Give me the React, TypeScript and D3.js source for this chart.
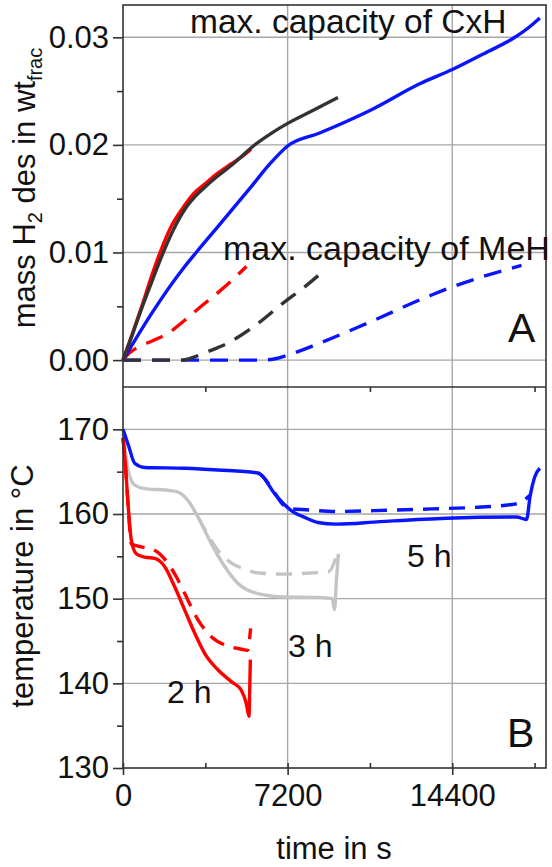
import React, { useEffect, useRef } from 'react';
import * as d3 from 'd3';

// ---- panel A: mass H2 desorbed (wt frac) vs time (s) ----
const tRedA = [0, 400, 820, 1250, 1620, 2100, 2600, 3100, 3600, 4100, 4700, 5200, 5600];
const mRedA = [0, 0.0024, 0.005, 0.0078, 0.01, 0.0124, 0.0141, 0.0155, 0.0164, 0.0173, 0.0182, 0.0189, 0.0196];

const tBlackA = [0, 400, 850, 1300, 1760, 2200, 2700, 3200, 3700, 4200, 4800, 5700, 6500, 7200, 8300, 9400];
const mBlackA = [0, 0.0023, 0.005, 0.0075, 0.01, 0.0121, 0.014, 0.0153, 0.0163, 0.0172, 0.0182, 0.0199, 0.0211, 0.022, 0.0232, 0.0244];

const tBlueA = [0, 1240, 2700, 3200, 4150, 5600, 6450, 7200, 8600, 10800, 13000, 14400, 15800, 17140, 17800, 18230];
const mBlueA = [0, 0.0043, 0.0087, 0.01, 0.0124, 0.0161, 0.0183, 0.0199, 0.0211, 0.0232, 0.0257, 0.027, 0.0285, 0.03, 0.031, 0.0318];

const tRedDashA = [0, 250, 650, 1300, 1970, 2700, 3420, 4000, 4600, 5400];
const mRedDashA = [0, 0.0006, 0.0012, 0.0018, 0.0025, 0.0037, 0.005, 0.006, 0.0071, 0.0087];

const tBlackDashA = [0, 2600, 3000, 3600, 4600, 5900, 7000, 8000, 8830];
const mBlackDashA = [0, 0, 0.0002, 0.0007, 0.0016, 0.0034, 0.0053, 0.0069, 0.0084];

const tBlueDashA = [0, 6000, 6600, 7400, 8400, 10650, 13550, 14400, 17430];
const mBlueDashA = [0, 0, 0.0001, 0.0006, 0.0014, 0.0034, 0.0061, 0.0068, 0.0088];

// ---- panel B: temperature (°C) vs time (s) ----
const tBlueB = [0, 250, 510, 950, 2700, 4150, 5900, 6050, 6630, 7360, 8030, 8520, 9340, 11240, 14150, 17210, 17650, 17800, 18010, 18230];
const cBlueB = [170, 168, 166, 165.5, 165.4, 165.2, 164.85, 164.6, 162.4, 160.4, 159.5, 159.0, 158.8, 159.1, 159.5, 159.65, 159.35, 162, 164.4, 165.4];

const tBlueDashB = [5900, 6050, 6630, 7000, 7400, 8000, 9300, 11000, 13500, 15500, 17200, 17800];
const cBlueDashB = [164.85, 164.6, 162.5, 161.1, 160.6, 160.5, 160.3, 160.4, 160.6, 160.8, 161.2, 162.2];

const tGreyB = [0, 100, 220, 510, 950, 1970, 2400, 2840, 3280, 3860, 4450, 5030, 5900, 7070, 8520, 9150, 9250, 9330, 9420];
const cGreyB = [169.5, 167.5, 165.2, 163.4, 163.0, 162.8, 162.6, 161.6, 159.65, 156.5, 153.8, 151.8, 150.6, 150.2, 150.15, 150.0, 148.7, 152, 155.3];

const tGreyDashB = [3280, 3700, 4150, 4750, 5300, 5900, 7000, 8300, 9000, 9340];
const cGreyDashB = [159.65, 157.6, 155.7, 154.2, 153.5, 153.05, 152.9, 153.05, 153.2, 155.1];

const tRedB = [0, 100, 220, 365, 580, 950, 1390, 1820, 2260, 2700, 3140, 3570, 4150, 4740, 5170, 5390, 5510, 5540, 5570];
const cRedB = [169, 166, 161.2, 156.9, 155.3, 154.9, 154.75, 153.8, 151.4, 148.65, 145.9, 143.55, 141.6, 140.2, 139.2, 137.65, 136.1, 139, 142.8];

const tRedDashB = [0, 100, 220, 365, 650, 1240, 1600, 1970, 2350, 2700, 3280, 3860, 4590, 5250, 5450, 5580];
const cRedDashB = [169, 166, 161.2, 156.5, 156.2, 155.9, 155.3, 154.15, 152.5, 150.6, 147.5, 145.5, 144.4, 144.0, 143.9, 146.5];

// ticks
const xMajor = [0, 7200, 14400];
const xMinor = [3600, 10800, 18000];
const yAMajor = [0, 0.01, 0.02, 0.03];
const yAMinor = [0.005, 0.015, 0.025];
const yBMajor = [130, 140, 150, 160, 170];
const yBMinor = [135, 145, 155, 165];

const zip = (a: number[], b: number[]) => a.map((v, i) => [v, b[i]] as [number, number]);

const FONT = "'Liberation Sans', Arial, sans-serif";

export default function App() {
  const ref = useRef<SVGSVGElement>(null);

  useEffect(() => {
    const svg = d3.select(ref.current);
    svg.selectAll('*').remove();

    const left = 123, right = 546, topA = 5, mid = 387, botB = 768;
    const x = d3.scaleLinear().domain([0, 18500]).range([left, right]);
    const yA = d3.scaleLinear().domain([-0.0025, 0.033]).range([mid, topA]);
    const yB = d3.scaleLinear().domain([130, 175]).range([botB, mid]);

    // grid
    const grid = svg.append('g').attr('stroke', '#a6a6a6').attr('stroke-width', 1.4);
    yAMajor.forEach(v => grid.append('line').attr('x1', left).attr('x2', right).attr('y1', yA(v)).attr('y2', yA(v)));
    yBMajor.filter(v => v > 130).forEach(v => grid.append('line').attr('x1', left).attr('x2', right).attr('y1', yB(v)).attr('y2', yB(v)));
    [7200, 14400].forEach(v => grid.append('line').attr('x1', x(v)).attr('x2', x(v)).attr('y1', topA).attr('y2', botB));

    // curves
    const lineA = d3.line<[number, number]>().x(d => x(d[0])).y(d => yA(d[1])).curve(d3.curveMonotoneX);
    const lineB = d3.line<[number, number]>().x(d => x(d[0])).y(d => yB(d[1])).curve(d3.curveMonotoneX);
    const draw = (path: string | null, color: string, dash?: string) => {
      const p = svg.append('path').attr('d', path).attr('fill', 'none').attr('stroke', color)
        .attr('stroke-width', 3.4).attr('stroke-linejoin', 'round');
      if (dash) p.attr('stroke-dasharray', dash);
    };
    draw(lineA(zip(tBlueDashA, mBlueDashA)), '#0a14ff', '18,11');
    draw(lineA(zip(tBlackDashA, mBlackDashA)), '#333333', '18,11');
    draw(lineA(zip(tRedDashA, mRedDashA)), '#ff0000', '18,11');
    draw(lineA(zip(tBlueA, mBlueA)), '#0a14ff');
    draw(lineA(zip(tRedA, mRedA)), '#ff0000');
    draw(lineA(zip(tBlackA, mBlackA)), '#333333');

    draw(lineB(zip(tGreyDashB, cGreyDashB)), '#c4c4c4', '16,10');
    draw(lineB(zip(tGreyB, cGreyB)), '#c4c4c4');
    draw(lineB(zip(tRedDashB, cRedDashB)), '#ff0000', '16,10');
    draw(lineB(zip(tRedB, cRedB)), '#ff0000');
    draw(lineB(zip(tBlueDashB, cBlueDashB)), '#0a14ff', '16,10');
    draw(lineB(zip(tBlueB, cBlueB)), '#0a14ff');

    // frame
    const frame = svg.append('g').attr('stroke', '#333').attr('stroke-width', 1.6).attr('fill', 'none');
    frame.append('rect').attr('x', left).attr('y', topA).attr('width', right - left).attr('height', botB - topA);
    frame.append('line').attr('x1', left).attr('x2', right).attr('y1', mid).attr('y2', mid);

    const styleAxis = (g: any, size: number) => {
      g.select('.domain').remove();
      g.selectAll('line').attr('stroke', '#333').attr('stroke-width', 1.6);
      g.selectAll('text').attr('font-family', FONT).attr('font-size', size).attr('fill', '#111');
    };

    // left axes
    const gA = svg.append('g').attr('transform', `translate(${left},0)`)
      .call(d3.axisLeft(yA).tickValues(yAMajor).tickSize(10).tickPadding(4).tickFormat(d3.format('.2f')));
    styleAxis(gA, 31);
    const gAm = svg.append('g').attr('transform', `translate(${left},0)`)
      .call(d3.axisLeft(yA).tickValues(yAMinor).tickSize(6).tickFormat(() => ''));
    styleAxis(gAm, 31);
    const gB = svg.append('g').attr('transform', `translate(${left},0)`)
      .call(d3.axisLeft(yB).tickValues(yBMajor).tickSize(10).tickPadding(4).tickFormat(d3.format('d')));
    styleAxis(gB, 31);
    const gBm = svg.append('g').attr('transform', `translate(${left},0)`)
      .call(d3.axisLeft(yB).tickValues(yBMinor).tickSize(6).tickFormat(() => ''));
    styleAxis(gBm, 31);

    // bottom axis
    const gX = svg.append('g').attr('transform', `translate(0,${botB})`)
      .call(d3.axisBottom(x).tickValues(xMajor).tickSizeInner(7).tickSizeOuter(0).tickPadding(9).tickFormat(d3.format('d')));
    styleAxis(gX, 31);
    gX.selectAll('.tick line').attr('y1', -5);
    const gXm = svg.append('g').attr('transform', `translate(0,${botB})`)
      .call(d3.axisTop(x).tickValues(xMinor).tickSize(5).tickFormat(() => ''));
    styleAxis(gXm, 31);
    const gMid = svg.append('g').attr('transform', `translate(0,${mid})`)
      .call(d3.axisBottom(x).tickValues(xMinor).tickSize(5).tickFormat(() => ''));
    styleAxis(gMid, 31);

    // axis titles
    const tA = svg.append('text').attr('transform', 'translate(35,188) rotate(-90)')
      .attr('text-anchor', 'middle').attr('font-family', FONT).attr('font-size', 31).attr('fill', '#111');
    tA.append('tspan').text('mass H');
    tA.append('tspan').attr('dy', 7).attr('font-size', 20).text('2');
    tA.append('tspan').attr('dy', -7).text(' des in wt');
    tA.append('tspan').attr('dy', 7).attr('font-size', 20).text('frac');

    svg.append('text').attr('transform', 'translate(33,586) rotate(-90)')
      .attr('text-anchor', 'middle').attr('font-family', FONT).attr('font-size', 31).attr('fill', '#111')
      .text('temperature in °C');

    svg.append('text').attr('x', 334).attr('y', 859).attr('text-anchor', 'middle')
      .attr('font-family', FONT).attr('font-size', 31).attr('fill', '#111').text('time in s');

    // annotations
    const note = (tx: string, px: number, py: number, size: number) =>
      svg.append('text').attr('x', px).attr('y', py).attr('font-family', FONT).attr('font-size', size)
        .attr('fill', '#111').text(tx);
    note('max. capacity of CxH', 190, 33, 33.5);
    note('max. capacity of MeH', 223, 260, 34);
    note('A', 508, 342, 41);
    note('B', 507, 747, 41);
    note('2 h', 167, 703, 32);
    note('3 h', 288, 657, 32);
    note('5 h', 407, 567, 32);
  }, []);

  return (
    <svg ref={ref} width={552} height={867}
      style={{ position: 'absolute', left: 0, top: 0, background: '#fff' }} />
  );
}
